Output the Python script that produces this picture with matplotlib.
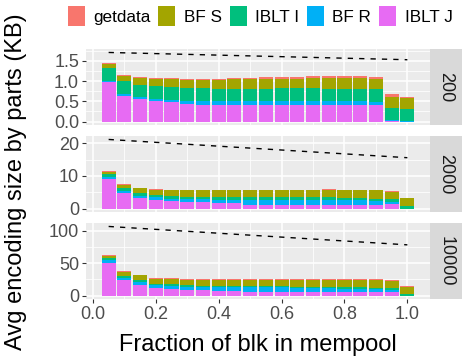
import numpy as np
import matplotlib
matplotlib.use('Agg')
import matplotlib.pyplot as plt
from matplotlib.patches import Patch

plt.rcParams['font.family'] = ['Liberation Sans', 'DejaVu Sans']

# x positions (fraction of block in mempool)
frac = [0.05, 0.10, 0.15, 0.20, 0.25, 0.30, 0.35, 0.40, 0.45, 0.50,
        0.55, 0.60, 0.65, 0.70, 0.75, 0.80, 0.85, 0.90, 0.95, 1.00]

facets = ['200', '2000', '10000']
parts = ['getdata', 'BF S', 'IBLT I', 'BF R', 'IBLT J']
colors = {'getdata': '#F8766D', 'BF S': '#A3A500', 'IBLT I': '#00BF7D',
          'BF R': '#00B0F6', 'IBLT J': '#E76BF3'}

# facet 200
iblt_j_200 = [0.975, 0.633, 0.55, 0.50, 0.475, 0.433, 0.40, 0.40, 0.40, 0.40,
              0.40, 0.40, 0.40, 0.40, 0.40, 0.40, 0.40, 0.40, 0.008, 0.0]
bf_r_200 = [0.033, 0.058, 0.05, 0.05, 0.05, 0.067, 0.10, 0.10, 0.10, 0.10,
            0.10, 0.10, 0.10, 0.10, 0.10, 0.10, 0.10, 0.083, 0.025, 0.01]
iblt_i_200 = [0.317, 0.31, 0.30, 0.333, 0.325, 0.333, 0.333, 0.30, 0.30, 0.30,
              0.30, 0.333, 0.333, 0.333, 0.30, 0.30, 0.30, 0.317, 0.30, 0.29]
bf_s_200 = [0.108, 0.133, 0.183, 0.167, 0.192, 0.20, 0.20, 0.225, 0.242, 0.242,
            0.242, 0.208, 0.208, 0.25, 0.283, 0.283, 0.283, 0.242, 0.267, 0.283]
getdata_200 = [0.025, 0.025, 0.017, 0.025, 0.033, 0.025, 0.017, 0.025, 0.033, 0.033,
               0.058, 0.058, 0.058, 0.042, 0.042, 0.042, 0.042, 0.058, 0.075, 0.017]

# facet 2000
iblt_j_2000 = [9.08, 4.75, 3.2, 2.58, 2.27, 1.86, 1.86, 1.55, 1.55, 1.24,
               1.24, 1.24, 1.24, 1.24, 1.24, 1.24, 1.24, 1.24, 1.34, 0.0]
bf_r_2000 = [0.62, 0.72, 0.72, 0.92, 0.73, 1.03, 1.03, 1.03, 1.03, 1.34,
             1.34, 1.24, 1.24, 1.24, 1.24, 1.24, 1.24, 1.03, 0.62, 0.0]
iblt_i_2000 = [0.93, 0.83, 0.83, 0.63, 0.82, 0.72, 0.61, 0.92, 0.92, 0.92,
               0.92, 1.02, 1.02, 1.02, 1.02, 0.72, 0.72, 0.62, 0.93, 0.72]
bf_s_2000 = [0.62, 1.03, 1.44, 1.55, 1.75, 1.96, 2.07, 2.07, 2.07, 2.07,
             2.07, 2.07, 2.07, 2.07, 2.18, 2.37, 2.37, 2.68, 2.17, 2.38]
getdata_2000 = [0.31, 0.2, 0.21, 0.31, 0.11, 0.11, 0.11, 0.11, 0.11, 0.11,
                0.11, 0.11, 0.11, 0.11, 0.31, 0.11, 0.11, 0.11, 0.31, 0.2]

# facet 10000
iblt_j_10000 = [50.8, 23.6, 15.7, 11.0, 9.4, 7.9, 7.9, 6.3, 6.3, 4.7,
                4.7, 4.7, 4.7, 4.7, 4.7, 4.7, 4.7, 4.7, 4.7, 0.0]
bf_r_10000 = [4.2, 4.1, 4.7, 4.7, 4.7, 4.7, 4.7, 6.3, 6.3, 7.9,
              7.9, 7.9, 6.3, 6.3, 6.3, 4.7, 4.7, 4.7, 3.2, 0.0]
iblt_i_10000 = [2.1, 2.7, 3.7, 2.6, 3.2, 3.1, 2.1, 2.1, 2.1, 2.1,
                2.1, 2.1, 2.1, 1.6, 1.6, 3.2, 3.2, 2.6, 3.1, 2.6]
bf_s_10000 = [3.1, 6.2, 6.8, 7.4, 8.4, 8.9, 9.9, 9.9, 9.9, 9.9,
              9.9, 9.9, 11.5, 12.0, 12.0, 12.0, 12.0, 12.6, 11.5, 10.5]
getdata_10000 = [1.6, 1.1, 1.0, 1.0, 1.0, 0.5, 0.5, 0.5, 0.5, 0.5,
                 0.5, 0.5, 0.5, 0.5, 0.5, 0.5, 0.5, 0.5, 1.1, 1.0]

# dashed reference line (endpoints)
line_x = [0.05, 1.00]
line_200 = [1.71, 1.53]
line_2000 = [21.2, 15.6]
line_10000 = [106.3, 78.0]

data = {
    '200': {'IBLT J': iblt_j_200, 'BF R': bf_r_200, 'IBLT I': iblt_i_200,
            'BF S': bf_s_200, 'getdata': getdata_200},
    '2000': {'IBLT J': iblt_j_2000, 'BF R': bf_r_2000, 'IBLT I': iblt_i_2000,
             'BF S': bf_s_2000, 'getdata': getdata_2000},
    '10000': {'IBLT J': iblt_j_10000, 'BF R': bf_r_10000, 'IBLT I': iblt_i_10000,
              'BF S': bf_s_10000, 'getdata': getdata_10000},
}
lines = {'200': line_200, '2000': line_2000, '10000': line_10000}
yticks = {'200': [0.0, 0.5, 1.0, 1.5], '2000': [0, 10, 20], '10000': [0, 50, 100]}
yminor = {'200': [0.25, 0.75, 1.25, 1.75], '2000': [5, 15], '10000': [25, 75]}
ytlab = {'200': ['0.0', '0.5', '1.0', '1.5'], '2000': ['0', '10', '20'],
         '10000': ['0', '50', '100']}

W, H = 463, 363
fig = plt.figure(figsize=(W/100, H/100), dpi=100)

left, right = 86/W, 430/W
strip_w = 32/W
tops = [49, 136, 223]
ph = 76

stack_order = ['IBLT J', 'BF R', 'IBLT I', 'BF S', 'getdata']
for k, fc in enumerate(facets):
    b = 1 - (tops[k] + ph)/H
    ax = fig.add_axes([left, b, right - left, ph/H])
    ax.set_facecolor('#EBEBEB')
    bottom = np.zeros(len(frac))
    for p in stack_order:
        vals = np.array(data[fc][p])
        ax.bar(frac, vals, width=0.045, bottom=bottom, color=colors[p],
               linewidth=0, zorder=2)
        bottom += vals
    ax.plot(line_x, lines[fc], color='black', lw=1.0, dashes=(3.8, 4.4), zorder=3)
    ymax = max(lines[fc])
    ax.set_ylim(-0.05*ymax, 1.05*ymax)
    ax.set_xlim(-0.022, 1.072)
    ax.set_xticks([0.0, 0.2, 0.4, 0.6, 0.8, 1.0])
    ax.set_xticks([0.1, 0.3, 0.5, 0.7, 0.9], minor=True)
    ax.set_yticks(yticks[fc])
    ax.set_yticklabels(ytlab[fc])
    ax.set_yticks(yminor[fc], minor=True)
    ax.grid(which='major', color='white', lw=1.1, zorder=0)
    ax.grid(which='minor', color='white', lw=0.55, zorder=0)
    ax.set_axisbelow(True)
    for s in ax.spines.values():
        s.set_visible(False)
    ax.tick_params(which='major', length=3, width=0.8, color='#333333',
                   labelsize=13, labelcolor='#4D4D4D', pad=2)
    ax.tick_params(which='minor', length=0)
    if k < 2:
        ax.tick_params(axis='x', which='major', labelbottom=False, length=0)

    sax = fig.add_axes([right, b, strip_w, ph/H])
    sax.set_facecolor('#D9D9D9')
    sax.set_xticks([])
    sax.set_yticks([])
    for s in sax.spines.values():
        s.set_visible(False)
    sax.text(0.5, 0.5, fc, rotation=-90, ha='center', va='center',
             fontsize=13, color='#1A1A1A', transform=sax.transAxes)

fig.text(0.5*(left + right), 1 - 345/H, 'Fraction of blk in mempool',
         ha='center', va='center', fontsize=17)
fig.text(16/W, 0.5, 'Avg encoding size by parts (KB)', rotation=90,
         ha='center', va='center', fontsize=17)

handles = [Patch(facecolor=colors[p], edgecolor='none', label=p) for p in parts]
fig.legend(handles=handles, loc='center', ncol=5, frameon=False,
           bbox_to_anchor=(260/W, 1 - 16/H), fontsize=12.3,
           handlelength=1.0, handleheight=1.45, handletextpad=0.5,
           columnspacing=0.45, borderaxespad=0)

fig.savefig('out.png', dpi=100)
